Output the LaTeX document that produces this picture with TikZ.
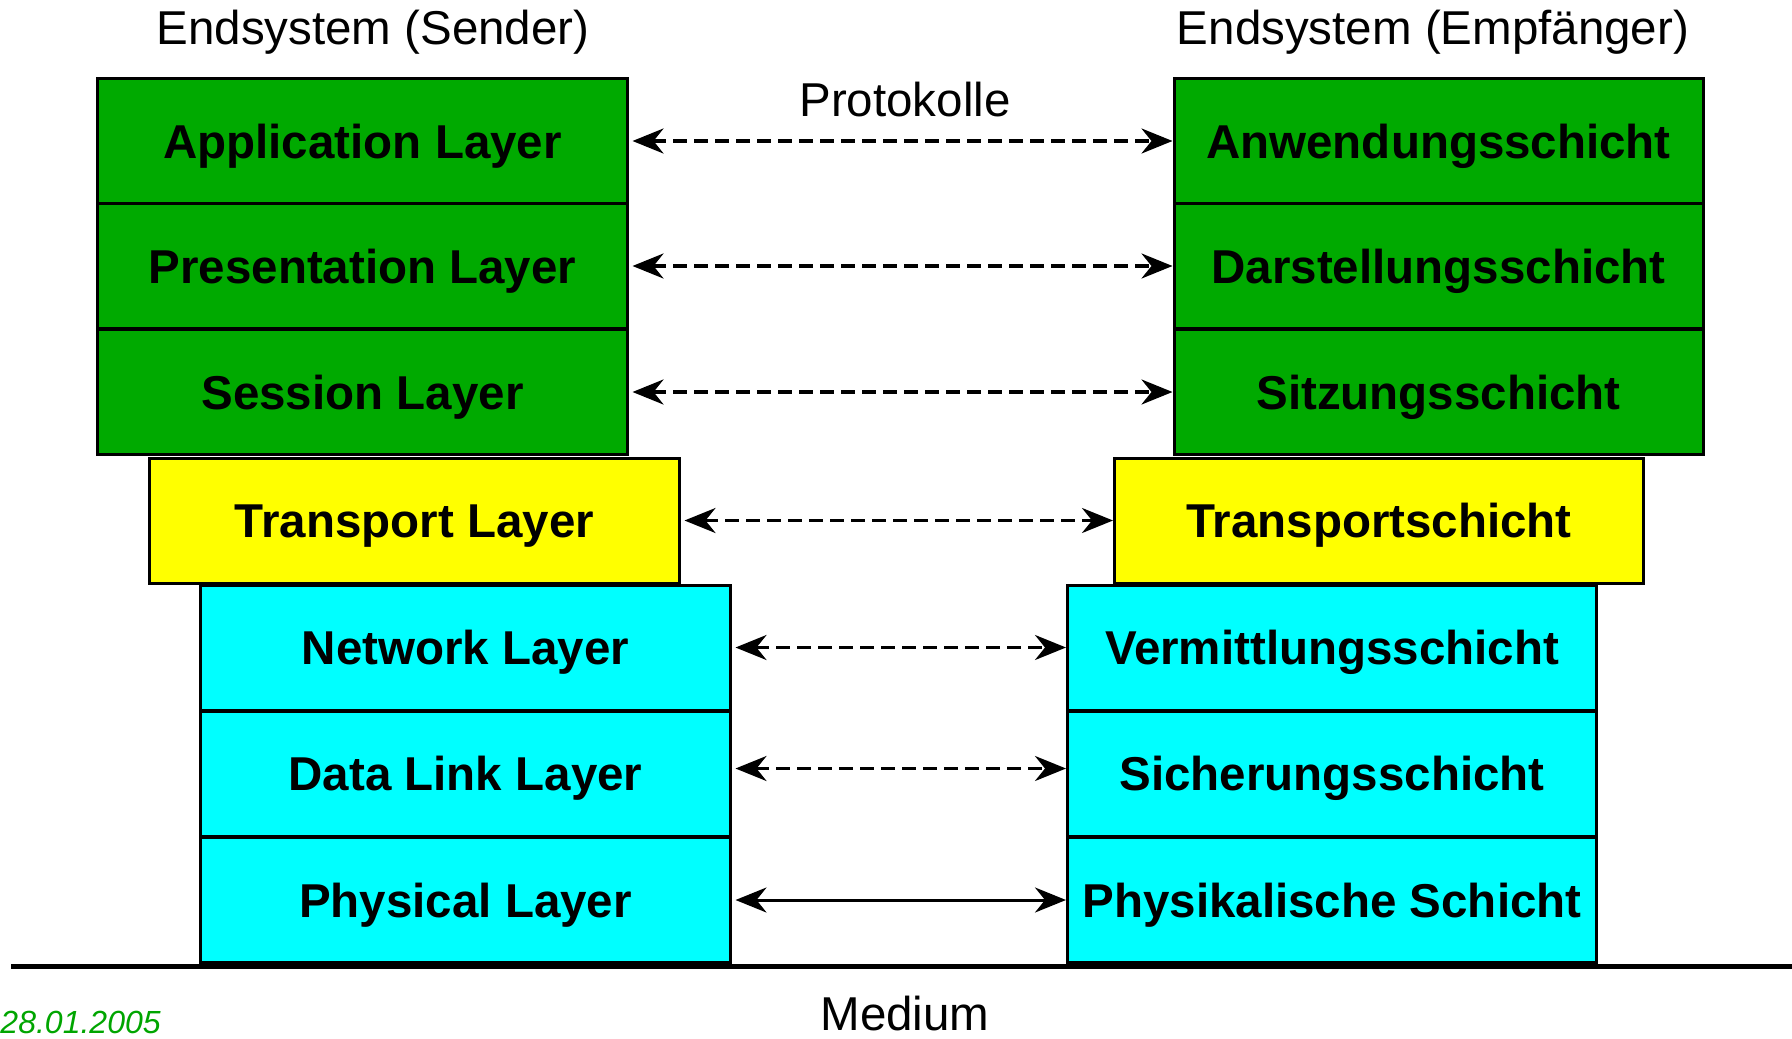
\documentclass[tikz,border=0pt]{standalone}
\usepackage{fontspec}
\setmainfont{Liberation Sans}
\usetikzlibrary{arrows.meta}
\definecolor{layergreen}{RGB}{0,170,0}
\definecolor{layeryellow}{RGB}{255,255,0}
\definecolor{layercyan}{RGB}{0,255,255}
\definecolor{dategreen}{RGB}{0,165,0}
\begin{document}
\begin{tikzpicture}[x=0.4pt,y=-0.4pt,
  layer/.style={draw=black, line width=1.2pt, inner sep=0pt,
    minimum width=211.6pt, minimum height=50pt,
    font=\fontsize{19}{22}\selectfont\bfseries,
    text height=13.6pt, text depth=0pt},
  greenlayer/.style={layer, fill=layergreen},
  yellowlayer/.style={layer, fill=layeryellow},
  cyanlayer/.style={layer, fill=layercyan},
  caption/.style={font=\fontsize{19}{22}\selectfont, inner sep=0pt, anchor=base},
  proto/.style={line width=1.3pt, dash pattern=on 5.4pt off 3pt,
    {Stealth[length=12.4pt, width=10pt, inset=4pt]}-{Stealth[length=12.4pt, width=10pt, inset=4pt]},
    shorten <=1.6pt},
  physlink/.style={line width=1.2pt,
    {Stealth[length=12.4pt, width=10pt, inset=4pt]}-{Stealth[length=12.4pt, width=10pt, inset=4pt]},
    shorten <=1.6pt}]

\useasboundingbox (0,0) rectangle (1792,1039);

% sender stack
\node[greenlayer]  (sa) at (362.5,141)   {Application Layer};
\node[greenlayer]  (sp) at (362.5,266)   {Presentation Layer};
\node[greenlayer]  (ss) at (362.5,392)   {Session Layer};
\node[yellowlayer] (st) at (414.5,520.5) {Transport Layer};
\node[cyanlayer]   (sn) at (465.5,647.5) {Network Layer};
\node[cyanlayer]   (sd) at (465.5,773.5) {Data Link Layer};
\node[cyanlayer]   (sh) at (465.5,900)   {Physical Layer};

% receiver stack
\node[greenlayer]  (ra) at (1438.5,141)   {Anwendungsschicht};
\node[greenlayer]  (rp) at (1438.5,266)   {Darstellungsschicht};
\node[greenlayer]  (rs) at (1438.5,392)   {Sitzungsschicht};
\node[yellowlayer] (rt) at (1379,520.5)   {Transportschicht};
\node[cyanlayer]   (rn) at (1332,647.5)   {Vermittlungsschicht};
\node[cyanlayer]   (rd) at (1332,773.5)   {Sicherungsschicht};
\node[cyanlayer]   (rh) at (1332,900)     {Physikalische Schicht};

% headings and labels
\node[caption] (hs) at (373,45)   {Endsystem (Sender)};
\node[caption] (he) at (1433,45)  {Endsystem (Empfänger)};
\node[caption] (pr) at (905,116)  {Protokolle};
\node[caption] (me) at (905,1030) {Medium};
\node[font=\fontsize{12.8}{15}\selectfont\itshape, text=dategreen,
      inner sep=0pt, anchor=base west] (dt) at (0,1033) {28.01.2005};

% peer protocols
\draw[proto] (sa.east) -- (ra.west);
\draw[proto] (sp.east) -- (rp.west);
\draw[proto] (ss.east) -- (rs.west);
\draw[proto] (st.east) -- (rt.west);
\draw[proto] (sn.east) -- (rn.west);
\draw[proto] ([yshift=2pt]sd.east) -- ([yshift=2pt]rd.west);
\draw[physlink] (sh.east) -- (rh.west);

% transmission medium
\coordinate (m1) at (11,966);
\coordinate (m2) at (1792,966);
\draw[line width=2pt] (m1) -- (m2);
\end{tikzpicture}
\end{document}
